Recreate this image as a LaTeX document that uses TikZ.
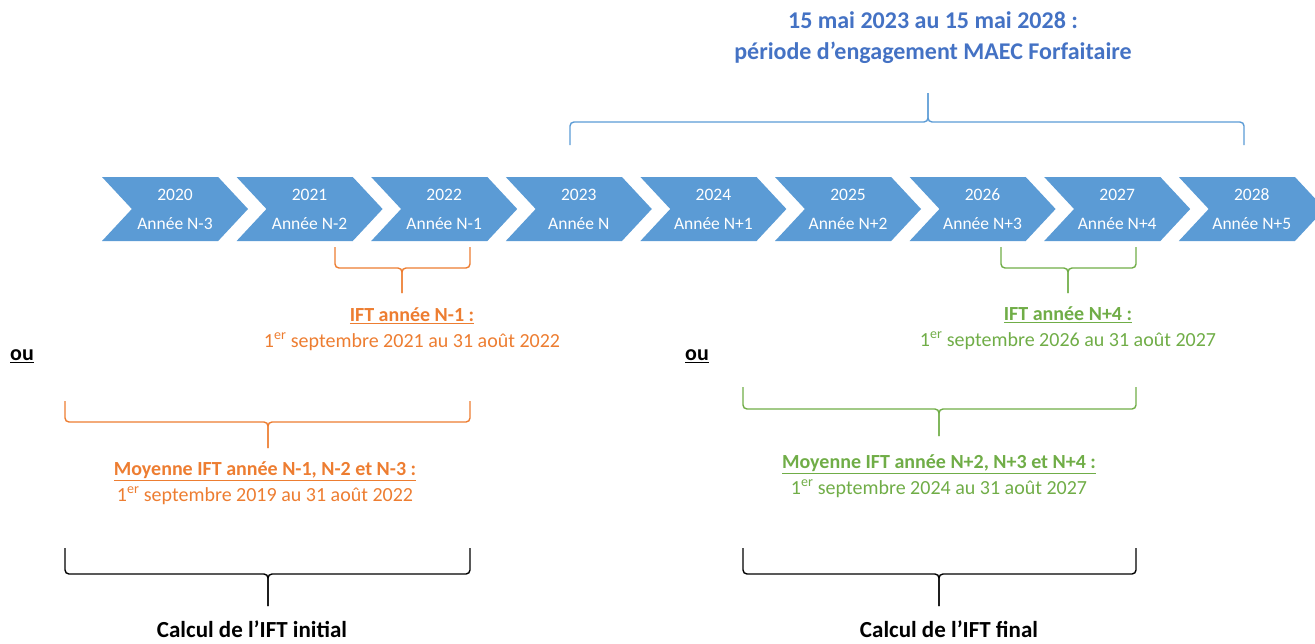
\documentclass[tikz,border=0pt]{standalone}
\usepackage{fontspec}
\setmainfont{Carlito}
\usetikzlibrary{positioning,shapes.symbols}
\definecolor{bleuchevron}{HTML}{5B9BD5}
\definecolor{bleutitre}{HTML}{4472C4}
\definecolor{orangeift}{HTML}{ED7D31}
\definecolor{vertift}{HTML}{70AD47}
% accolade : couleur, x gauche, x droite, x pointe, y bouts, y trait, y pointe
\newcommand{\accolade}[7]{%
  \draw[#1] (#2,#5) -- (#2,#6) -- (#4,#6) -- (#4,#7);
  \draw[#1] (#3,#5) -- (#3,#6) -- (#4,#6) -- (#4,#7);}

\begin{document}
\begin{tikzpicture}
        [x=1pt, y=-1pt,
        chevron/.style={signal, signal from=west, signal to=east,
        signal pointer angle=94, fill=bleuchevron, draw=none,
        minimum width=146, minimum height=64, inner sep=0pt,
        text=white, align=center, font=\fontsize{17.5}{29}\selectfont},
        crochet/.style={line width=1.4pt, rounded corners=4pt},
        legende/.style={align=center, font=\fontsize{20}{26}\selectfont},
        titre/.style={align=center, text=bleutitre,
        font=\bfseries\fontsize{24}{31}\selectfont},
        calcul/.style={font=\bfseries\fontsize{23}{28}\selectfont},
        ou/.style={font=\bfseries\fontsize{22}{26}\selectfont}]
        \useasboundingbox (0,0) rectangle (1315,643);
        % frise des annees
        \foreach \an/\rang [count=\i from 0] in {2020/N-3, 2021/N-2,
            2022/N-1, 2023/N, 2024/N+1, 2025/N+2, 2026/N+3, 2027/N+4, 2028/N+5}
            \node[chevron] (an\i) at ({175+134.6*\i},209) {\an\\Année \rang};
        % periode d'engagement
        \node[titre] (engagement) at (933,38)
            {15 mai 2023 au 15 mai 2028 :\\période d’engagement MAEC Forfaitaire};
        \accolade{bleuchevron,crochet}{570}{1244}{928}{145}{122}{93}
        % IFT initial
        \accolade{orangeift,crochet}{335}{470}{402}{247}{268}{293}
        \node[legende, text=orangeift] (iftN1) at (412,329)
            {\textbf{\underline{IFT année N-1 :}}\\1\textsuperscript{er} septembre 2021 au 31 août 2022};
        \node[ou] (ouA) at (22,356) {\underline{ou}};
        \accolade{orangeift,crochet}{65}{470}{268}{401}{422}{448}
        \node[legende, text=orangeift] (moyInit) at (265,483)
            {\textbf{\underline{Moyenne IFT année N-1, N-2 et N-3 :}}\\1\textsuperscript{er} septembre 2019 au 31 août 2022};
        \accolade{black,crochet}{65}{470}{268}{548}{574}{606}
        \node[calcul] (initial) at (252,629) {Calcul de l’IFT initial};
        % IFT final
        \accolade{vertift,crochet}{1001}{1136}{1068}{247}{268}{293}
        \node[legende, text=vertift] (iftN4) at (1068,328)
            {\textbf{\underline{IFT année N+4 :}}\\1\textsuperscript{er} septembre 2026 au 31 août 2027};
        \node[ou] (ouB) at (697,356) {\underline{ou}};
        \accolade{vertift,crochet}{743}{1136}{939}{387}{409}{436}
        \node[legende, text=vertift] (moyFinal) at (939,476)
            {\textbf{\underline{Moyenne IFT année N+2, N+3 et N+4 :}}\\1\textsuperscript{er} septembre 2024 au 31 août 2027};
        \accolade{black,crochet}{743}{1136}{939}{548}{574}{606}
        \node[calcul] (final) at (949,629) {Calcul de l’IFT final};
\end{tikzpicture}
\end{document}
